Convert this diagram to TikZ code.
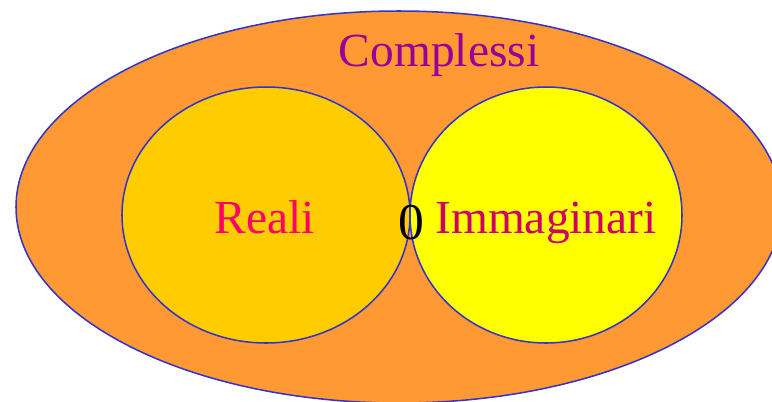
\documentclass[tikz,border=0pt]{standalone}
\usepackage{fontspec}
\setmainfont{Liberation Serif}
\usetikzlibrary{shapes.geometric}
\definecolor{setline}{HTML}{3333CC}
\definecolor{cplxfill}{HTML}{FF9933}
\definecolor{realfill}{HTML}{FFCC00}
\definecolor{immfill}{HTML}{FFFF00}
\definecolor{cplxtext}{HTML}{990099}
\definecolor{realtext}{HTML}{FF0066}
\definecolor{immtext}{HTML}{CC0066}

\begin{document}
\begin{tikzpicture}[
        x=0.3mm, y=-0.3mm,
        set/.style={ellipse, draw=setline, line width=1.3pt, inner sep=0pt},
        lbl/.style={anchor=base, inner sep=0pt, font=\fontsize{40.5}{48}\selectfont}
    ]
    \useasboundingbox (0,0) rectangle (772,401);
    \clip (0,0) rectangle (772,401);
    \node[set, fill=cplxfill, minimum width=229.8mm, minimum height=117.6mm] (cplx) at (399,207) {};
    \node[set, fill=realfill, minimum width=86.4mm, minimum height=76.8mm] (reali) at (266,215) {};
    \node[set, fill=immfill, minimum width=81.6mm, minimum height=76.8mm] (immag) at (546,215) {};
    \node[lbl, text=cplxtext] (cplxlbl) at (439,66) {Complessi};
    \node[lbl, text=realtext] (reallbl) at (265,233) {Reali};
    \node[lbl, text=immtext] (immlbl) at (546,233) {Immaginari};
    \node[lbl, font=\fontsize{44}{52}\selectfont] (zero) at (411,239) {0};
\end{tikzpicture}
\end{document}
